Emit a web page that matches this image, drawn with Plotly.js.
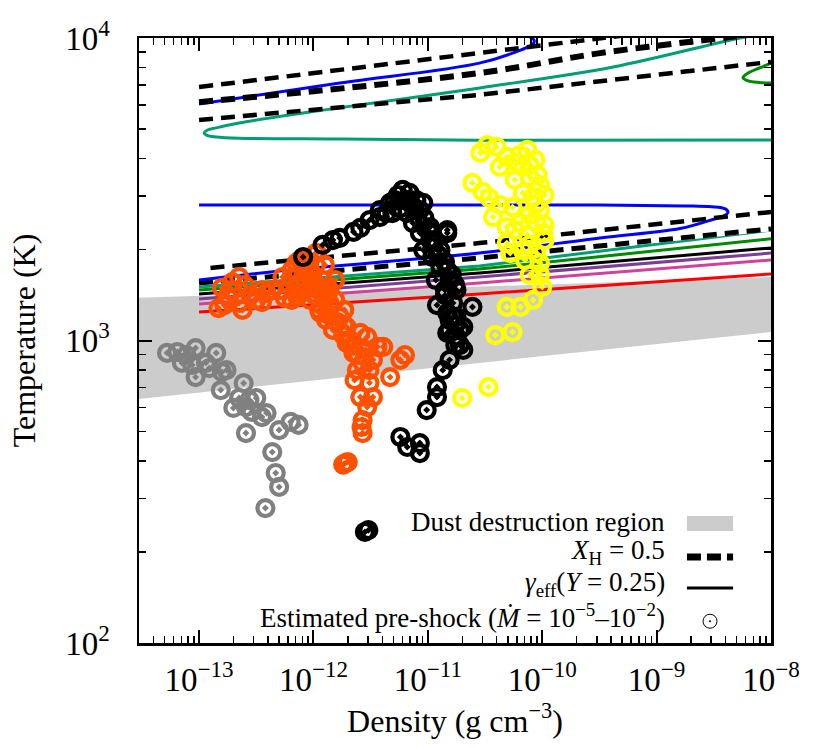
<!DOCTYPE html>
<html><head><meta charset="utf-8">
<script src="https://cdn.plot.ly/plotly-3.0.1.min.js"></script>
<style>body{margin:0;background:#fff}#chart{width:830px;height:747px}</style>
</head><body><div id="chart"></div>
<script>
const FONT = 'Liberation Serif, Times New Roman, serif';

// ---- tick labels ----
const xTickVals = [1e-13, 1e-12, 1e-11, 1e-10, 1e-9, 1e-8];
const xTickText = ['10<sup>−13</sup>','10<sup>−12</sup>','10<sup>−11</sup>','10<sup>−10</sup>','10<sup>−9</sup>','10<sup>−8</sup>'];
const yTickVals = [100, 1000, 10000];
const yTickText = ['10<sup>2</sup>','10<sup>3</sup>','10<sup>4</sup>'];

// ---- dust destruction region (log10 rho, log10 T) ----
const dustLogRho = [-13.525, -8.0, -8.0, -13.525];
const dustLogT   = [3.141, 3.210, 3.028, 2.807];

// ---- X_H = 0.5 dashed curves ----
const d1LogRho = [-13.0, -9.47, -8.0];
const d1LogT   = [3.838, 4.0, 4.067];
const d2LogRho = [-13.0, -10.553, -9.495, -8.36, -8.0];
const d2LogT   = [3.788, 3.884, 3.950, 4.003, 4.02];
const d3LogRho = [-13.0, -10.553, -8.0];
const d3LogT   = [3.729, 3.812, 3.921];
const m1LogRho = [-12.90, -10.55, -8.0];
const m1LogT   = [3.240, 3.322, 3.425];
const m2LogRho = [-13.0, -10.545, -8.0];
const m2LogT   = [3.190, 3.273, 3.369];

// ---- gamma_eff curves ----
const blueUpLogRho = [-13.0, -11.77, -10.55, -10.19, -10.08, -10.07, -10.11, -10.24];
const blueUpLogT   = [3.782, 3.851, 3.917, 3.960, 3.980, 3.992, 4.004, 4.026];
const blueLoLogRho = [-13.0, -12.205, -10.55, -9.495, -8.796, -8.51, -8.40, -8.376, -8.40, -8.52, -8.75, -9.495, -13.0];
const blueLoLogT   = [3.200, 3.233, 3.289, 3.339, 3.370, 3.400, 3.414, 3.424, 3.435, 3.442, 3.445, 3.448, 3.448];
const tealUpLogRho = [-8.0, -8.27, -9.38, -10.545, -11.78, -12.65, -12.85, -12.93, -12.955, -12.93, -12.85, -12.65, -11.78, -10.55, -8.0];
const tealUpLogT   = [4.017, 4.0, 3.904, 3.835, 3.769, 3.719, 3.703, 3.695, 3.686, 3.678, 3.673, 3.669, 3.666, 3.662, 3.663];
const greenLoopLogRho = [-8.0, -8.10, -8.20, -8.245, -8.20, -8.10, -8.0];
const greenLoopLogT   = [3.917, 3.901, 3.884, 3.869, 3.858, 3.853, 3.851];

const bundleLogRho = [-13.0, -10.55, -8.0];
const tealLogT   = [3.177, 3.246, 3.365];
const greenLogT  = [3.167, 3.236, 3.336];
const blackLogT  = [3.154, 3.223, 3.306];
const purpleLogT = [3.137, 3.210, 3.289];
const pinkLogT   = [3.121, 3.190, 3.266];
const redLogT    = [3.094, 3.154, 3.220];

// ---- estimated pre-shock points ----
const grayLogRho = [-13.28,-13.19,-13.11,-13.03,-13.15,-13.06,-12.94,-12.85,-13.03,-12.91,
  -12.80,-12.76,-12.81,-12.61,-12.65,-12.56,-12.50,-12.70,-12.59,-12.54,
  -12.45,-12.41,-12.20,-12.13,-12.59,-12.30,-12.36,-12.33,-12.30,-12.42];
const grayLogT = [2.959,2.962,2.952,2.975,2.926,2.919,2.926,2.959,2.879,2.909,
  2.896,2.902,2.836,2.859,2.810,2.803,2.810,2.777,2.780,2.764,
  2.747,2.760,2.731,2.721,2.694,2.704,2.631,2.562,2.516,2.446];

const orangeLogRho = [-12.80,-12.71,-12.65,-12.83,-12.78,-12.74,-12.65,-12.62,-12.50,-12.41,
  -12.36,-12.27,-12.19,-12.15,-12.07,-11.98,-12.19,-12.13,-12.01,-12.07,
  -11.95,-11.89,-12.12,-11.97,-12.09,-12.14,-12.03,-11.92,-11.94,-11.86,
  -11.77,-11.83,-11.71,-11.68,-11.59,-11.53,-11.44,-11.39,-11.65,-11.71,
  -11.62,-11.57,-11.48,-11.33,-11.24,-11.20,-11.59,-11.51,-11.48,-11.53,
  -11.57,-11.58,-11.57,-11.72,-11.86,-11.99,-11.81,-11.73,-11.90,-12.71,
  -12.55,-12.45,-11.74,-11.70,-12.07,-12.01,-11.96,-11.90,-11.93,-11.86,
  -11.79,-11.74,-11.66,-11.61,-11.54,-11.51,-11.64,-12.03,-12.12,-12.21,
  -12.29,-12.25,-12.45,-12.60,-12.75,-11.98,-11.90,-11.81,-11.73];
const orangeLogT = [3.174,3.193,3.210,3.107,3.117,3.140,3.124,3.101,3.134,3.157,
  3.167,3.210,3.233,3.256,3.266,3.289,3.134,3.157,3.190,3.223,
  3.101,3.068,3.266,3.289,3.210,3.144,3.233,3.200,3.091,3.124,
  3.078,3.035,3.045,3.002,3.025,3.012,2.979,2.979,2.959,2.992,
  2.902,2.926,2.936,2.879,2.936,2.952,2.813,2.860,2.813,2.780,
  2.737,2.714,2.694,2.595,3.167,3.150,3.134,3.101,3.134,3.167,
  3.150,3.127,2.590,2.598,3.250,3.217,3.167,3.150,3.117,3.084,
  3.061,3.018,2.985,2.952,2.969,2.902,2.869,3.134,3.183,3.183,
  3.167,3.140,3.167,3.183,3.147,3.250,3.250,3.200,3.051];

const blackPtLogRho = [-12.09,-11.92,-11.83,-11.77,-11.59,-11.51,-11.36,-11.33,-11.22,-11.16,
  -11.10,-11.04,-11.18,-11.13,-11.07,-10.98,-10.83,-11.04,-10.96,-10.89,
  -10.83,-10.81,-10.75,-10.78,-10.83,-10.75,-10.81,-10.69,-10.75,-10.69,
  -10.61,-10.87,-10.92,-10.92,-11.01,-11.24,-11.18,-11.07,-11.07,-11.55,
  -10.83,-10.78,-10.83,-11.29,-11.24,-11.11,-10.98,-10.89,-10.93,-10.85,
  -10.92,-10.72,-10.81,-11.65,-11.42,-11.52,-11.26,-11.17,-11.07,-11.14,
  -11.03,-11.00,-10.94,-10.91,-10.85,-10.79,-10.76,-10.85,-10.81,-10.72,
  -10.76,-11.42,-11.31];
const blackPtLogT = [3.276,3.316,3.332,3.339,3.372,3.398,3.421,3.455,3.498,3.488,
  3.464,3.455,3.421,3.388,3.355,3.375,3.355,3.299,3.276,3.243,
  3.233,3.200,3.167,3.124,3.091,3.078,3.035,3.045,3.012,2.969,
  3.111,2.902,2.846,2.813,2.770,2.681,2.648,2.661,2.628,2.367,
  3.365,3.078,3.025,3.464,3.438,3.431,3.332,3.299,3.200,3.150,
  3.117,2.985,2.936,3.359,3.408,2.373,3.481,3.464,3.431,3.448,
  3.405,3.365,3.332,3.283,3.260,3.217,3.183,3.167,3.068,3.035,
  2.985,3.431,3.421];

const yellowLogRho = [-10.48,-10.40,-10.31,-10.37,-10.22,-10.17,-10.11,-10.61,-10.52,-10.46,
  -10.26,-10.17,-10.08,-10.02,-10.43,-10.19,-10.31,-10.05,-9.99,-10.31,
  -10.28,-10.17,-10.05,-10.02,-10.11,-10.00,-10.08,-10.19,-10.31,-10.26,
  -10.41,-10.47,-10.70,-10.13,-10.06,-10.02,-9.98,-9.98,-10.13,-10.37,
  -10.24,-10.54,-10.20,-10.11,-10.04,-10.06,-10.11,-9.98,-10.11,-10.02,
  -10.15,-10.24];
const yellowLogT = [3.646,3.640,3.607,3.574,3.587,3.574,3.540,3.521,3.491,3.471,
  3.441,3.488,3.474,3.431,3.408,3.388,3.375,3.388,3.355,3.322,
  3.289,3.299,3.289,3.256,3.217,3.177,3.134,3.111,3.111,3.028,
  3.018,2.846,2.810,3.630,3.597,3.514,3.481,3.332,3.349,3.448,
  3.531,3.620,3.613,3.580,3.547,3.448,3.415,3.382,3.316,3.217,
  3.266,3.365];

const p10 = a => a.map(v => Math.pow(10, v));

function line(xl, yl, color, width, dash, shape) {
  return {x: p10(xl), y: p10(yl), mode: 'lines', type: 'scatter', hoverinfo: 'skip',
    line: {color: color, width: width, dash: dash || 'solid', shape: shape || 'spline', smoothing: 1}};
}
function pts(xl, yl, color) {
  return {x: p10(xl), y: p10(yl), mode: 'markers', type: 'scatter', hoverinfo: 'skip',
    marker: {symbol: 'circle-open-dot', size: 16, color: color, line: {width: 4.2, color: color}}};
}

const traces = [
  {x: p10(dustLogRho), y: p10(dustLogT), mode: 'lines', fill: 'toself', fillcolor: '#cccccc',
   line: {width: 0, color: '#cccccc'}, hoverinfo: 'skip'},
  line(bundleLogRho, redLogT, '#ff0000', 3, 'solid', 'linear'),
  line(bundleLogRho, pinkLogT, '#d0439a', 3, 'solid', 'linear'),
  line(bundleLogRho, purpleLogT, '#7b3f98', 3, 'solid', 'linear'),
  line(bundleLogRho, blackLogT, '#000000', 3, 'solid', 'linear'),
  line(bundleLogRho, greenLogT, '#008a00', 3, 'solid', 'linear'),
  line(bundleLogRho, tealLogT, '#009e73', 3, 'solid', 'linear'),
  line(m2LogRho, m2LogT, '#ffffff', 5, 'solid', 'linear'),
  line(m2LogRho, m2LogT, '#000000', 5, '14px,8px', 'linear'),
  line(blueLoLogRho, blueLoLogT, '#0000ff', 3),
  line(m1LogRho, m1LogT, '#000000', 4.5, '14px,8px', 'linear'),
  line(tealUpLogRho, tealUpLogT, '#009e73', 3),
  line(greenLoopLogRho, greenLoopLogT, '#008a00', 3),
  line(blueUpLogRho, blueUpLogT, '#0000ff', 3),
  line(d1LogRho, d1LogT, '#000000', 4.5, '14px,8px'),
  line(d2LogRho, d2LogT, '#000000', 6, '14px,8px'),
  line(d3LogRho, d3LogT, '#000000', 4.5, '14px,8px', 'linear'),
  pts(grayLogRho, grayLogT, '#808080'),
  pts(orangeLogRho, orangeLogT, '#ff5000'),
  pts(blackPtLogRho, blackPtLogT, '#000000'),
  pts(yellowLogRho, yellowLogT, '#ffff00')
];

const minorX = [], minorY = [];
for (let e = -14; e <= -9; e++) for (let k = 2; k <= 9; k++) minorX.push(k * Math.pow(10, e));
for (let e = 2; e <= 3; e++) for (let k = 2; k <= 9; k++) minorY.push(k * Math.pow(10, e));

const axisCommon = {
  type: 'log', showgrid: false, zeroline: false, showline: true, linecolor: '#000', linewidth: 2.5,
  mirror: 'allticks', ticks: 'inside', ticklen: 13, tickwidth: 2, tickcolor: '#000',
  tickfont: {family: FONT, size: 33, color: '#000'}, tickmode: 'array'
};

const legX = 0.8354;
const layout = {
  width: 830, height: 747,
  margin: {l: 139, r: 59, t: 38, b: 104},
  paper_bgcolor: '#fff', plot_bgcolor: '#fff',
  showlegend: false,
  font: {family: FONT, color: '#000'},
  xaxis: Object.assign({}, axisCommon, {
    range: [-13.525, -8], tickvals: xTickVals, ticktext: xTickText, ticklabelstandoff: 6,
    minor: {tickvals: minorX, ticks: 'inside', ticklen: 7, tickwidth: 1.5, tickcolor: '#000'},
    title: {text: 'Density (g cm<sup>−3</sup>)', font: {family: FONT, size: 32, color: '#000'}, standoff: 8}
  }),
  yaxis: Object.assign({}, axisCommon, {
    range: [2, 4], tickvals: yTickVals, ticktext: yTickText, ticklabelstandoff: 20,
    minor: {tickvals: minorY, ticks: 'inside', ticklen: 7, tickwidth: 1.5, tickcolor: '#000'},
    title: {text: 'Temperature (K)', font: {family: FONT, size: 32, color: '#000'}, standoff: 20}
  }),
  annotations: [
    {text: 'Dust destruction region', x: legX, y: 0.200},
    {text: '<i>X</i><sub>H</sub> = 0.5', x: legX, y: 0.150},
    {text: '<i>γ</i><sub>eff</sub>(<i>Y</i> = 0.25)', x: legX, y: 0.097},
    {text: 'Estimated pre-shock (<i>Ṁ</i> = 10<sup>−5</sup>–10<sup>−2</sup>)', x: legX, y: 0.044}
  ].map(a => Object.assign({xref: 'paper', yref: 'paper', xanchor: 'right', yanchor: 'middle',
      showarrow: false, font: {family: FONT, size: 27, color: '#000'}}, a)),
  shapes: [
    {type: 'rect', xref: 'paper', yref: 'paper', x0: 0.867, x1: 0.940, y0: 0.185, y1: 0.210,
     fillcolor: '#cccccc', line: {width: 0}},
    {type: 'line', xref: 'paper', yref: 'paper', x0: 0.867, x1: 0.940, y0: 0.142, y1: 0.142,
     line: {color: '#000', width: 7, dash: '14px,6px'}},
    {type: 'line', xref: 'paper', yref: 'paper', x0: 0.867, x1: 0.940, y0: 0.091, y1: 0.091,
     line: {color: '#000', width: 3}},
    {type: 'circle', xref: 'paper', yref: 'paper', xsizemode: 'pixel', ysizemode: 'pixel',
     xanchor: 0.9035, yanchor: 0.036, x0: -7, x1: 7, y0: -7, y1: 7, line: {color: '#000', width: 1}},
    {type: 'circle', xref: 'paper', yref: 'paper', xsizemode: 'pixel', ysizemode: 'pixel',
     xanchor: 0.9035, yanchor: 0.036, x0: -0.8, x1: 0.8, y0: -0.8, y1: 0.8, fillcolor: '#000', line: {color: '#000', width: 0.5}}
  ]
};

Plotly.newPlot('chart', traces, layout, {staticPlot: true, displayModeBar: false});
</script>
</body></html>
